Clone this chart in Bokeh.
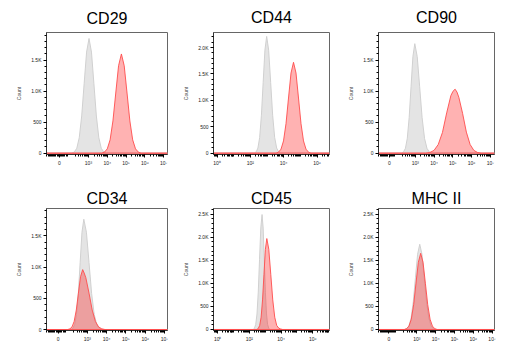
from bokeh.plotting import figure
from bokeh.layouts import gridplot
from bokeh.models import FixedTicker, Range1d
from bokeh.embed import file_html
from bokeh.resources import INLINE
import math

# ---------------- data (x in decades of fluorescence intensity, y = cell count) -------------
titles = ["CD29", "CD44", "CD90", "CD34", "CD45", "MHC II"]
scale_kind = ["biex", "log", "biex", "biex", "log", "biex"]

cd29_iso_x = [2.12, 2.25, 2.38, 2.51, 2.64, 2.77, 2.90, 3.03, 3.16, 3.29, 3.42, 3.55, 3.68, 3.81, 3.94]
cd29_iso_y = [0, 20, 80, 250, 600, 1120, 1630, 1850, 1630, 1120, 600, 250, 80, 20, 0]
cd29_pos_x = [3.70, 3.85, 4.00, 4.15, 4.30, 4.45, 4.60, 4.75, 4.90, 5.05, 5.20, 5.35, 5.50, 5.65, 5.80]
cd29_pos_y = [0, 18, 70, 215, 520, 970, 1410, 1600, 1410, 970, 520, 215, 70, 18, 0]

cd44_iso_x = [2.245, 2.35, 2.455, 2.56, 2.665, 2.77, 2.875, 2.98, 3.10, 3.22, 3.34, 3.46, 3.58, 3.70, 3.82]
cd44_iso_y = [0, 25, 97, 298, 718, 1340, 1950, 2210, 1950, 1340, 718, 298, 97, 25, 0]
cd44_pos_x = [3.54, 3.69, 3.84, 3.99, 4.14, 4.29, 4.44, 4.59, 4.74, 4.89, 5.04, 5.19, 5.34, 5.49, 5.64]
cd44_pos_y = [0, 19, 76, 232, 559, 1044, 1517, 1720, 1517, 1044, 559, 232, 76, 19, 0]

cd90_iso_x = [2.27, 2.37, 2.47, 2.57, 2.67, 2.77, 2.87, 2.97, 3.10, 3.23, 3.36, 3.49, 3.62, 3.75, 3.88]
cd90_iso_y = [0, 20, 78, 239, 574, 1072, 1558, 1766, 1558, 1072, 574, 239, 78, 20, 0]
cd90_pos_x = [3.545, 3.77, 3.995, 4.22, 4.445, 4.67, 4.895, 5.01, 5.12, 5.22, 5.32, 5.52, 5.72, 5.92, 6.12, 6.32, 6.52]
cd90_pos_y = [0, 11, 45, 140, 335, 650, 930, 1000, 1032, 985, 900, 640, 340, 140, 45, 11, 0]

cd34_iso_x = [2.155, 2.25, 2.345, 2.44, 2.535, 2.63, 2.725, 2.82, 2.955, 3.09, 3.225, 3.36, 3.495, 3.63, 3.765]
cd34_iso_y = [0, 19, 78, 239, 575, 1073, 1560, 1768, 1560, 1073, 575, 239, 78, 19, 0]
cd34_pos_x = [1.99, 2.10, 2.21, 2.32, 2.43, 2.54, 2.65, 2.76, 2.84, 2.925, 3.09, 3.255, 3.42, 3.585, 3.75, 3.915]
cd34_pos_y = [0, 11, 42, 130, 312, 583, 847, 960, 905, 830, 583, 312, 130, 42, 11, 0]

cd45_iso_x = [2.24, 2.32, 2.40, 2.48, 2.56, 2.64, 2.72, 2.80, 2.87, 2.94, 3.01, 3.08, 3.15, 3.22, 3.29]
cd45_iso_y = [0, 28, 110, 337, 810, 1513, 2199, 2493, 2199, 1513, 810, 337, 110, 28, 0]
cd45_pos_x = [2.47, 2.56, 2.65, 2.74, 2.83, 2.92, 3.01, 3.10, 3.225, 3.35, 3.475, 3.60, 3.725, 3.85, 3.975, 4.10]
cd45_pos_y = [0, 22, 87, 266, 641, 1197, 1739, 1972, 1739, 1197, 641, 266, 87, 30, 10, 0]

mhc_iso_x = [2.345, 2.46, 2.575, 2.69, 2.805, 2.92, 3.035, 3.15, 3.27, 3.39, 3.51, 3.63, 3.75, 3.87, 3.99]
mhc_iso_y = [0, 20, 81, 250, 600, 1121, 1630, 1848, 1630, 1121, 600, 250, 81, 20, 0]
mhc_pos_x = [2.325, 2.45, 2.575, 2.70, 2.825, 2.95, 3.075, 3.20, 3.325, 3.45, 3.575, 3.70, 3.825, 3.95, 4.075]
mhc_pos_y = [0, 18, 73, 223, 537, 1003, 1457, 1652, 1457, 1003, 537, 223, 73, 18, 0]

iso_x = [cd29_iso_x, cd44_iso_x, cd90_iso_x, cd34_iso_x, cd45_iso_x, mhc_iso_x]
iso_y = [cd29_iso_y, cd44_iso_y, cd90_iso_y, cd34_iso_y, cd45_iso_y, mhc_iso_y]
pos_x = [cd29_pos_x, cd44_pos_x, cd90_pos_x, cd34_pos_x, cd45_pos_x, mhc_pos_x]
pos_y = [cd29_pos_y, cd44_pos_y, cd90_pos_y, cd34_pos_y, cd45_pos_y, mhc_pos_y]

# axis ranges / ticks
x_ranges = [(0.77, 7.2), (-0.21, 6.75), (1.035, 7.22), (0.887, 7.155), (-0.264, 7.055), (0.954, 7.13)]
zero_pos = [1.45, None, 1.62, 1.485, None, 1.51]
y_ranges = [(-21, 1946), (-25, 2284), (-21, 1946), (-16, 1940), (-22, 2624), (-22, 2624)]
y_tick_values = [0, 500, 1000, 1500, 2000, 2500]
y_tick_labels = ["0", "500", "1.0K", "1.5K", "2.0K", "2.5K"]
biex_decades = [3, 4, 5, 6, 7]
biex_labels = ["10\u00b3", "10\u2074", "10\u2075", "10\u2076", "10\u2077"]
log_decades = [0, 2, 4, 6]
log_labels = ["10\u2070", "10\u00b2", "10\u2074", "10\u2076"]

# ---------------- layout ----------------
col_w = [180, 165, 185]
borders = [  # left, right, top, bottom
    (46, 10, 32, 21), (31, 16, 32, 21), (29, 33, 32, 21),
    (46, 13, 33, 20), (28, 15, 33, 20), (27, 36, 33, 20),
]
title_standoff = [12, 13, 13, 3, 3, 3]

FONT = "Liberation Sans"
figs = []
for i in range(6):
    col = i % 3
    bl, br, bt, bb = borders[i]
    x0, x1 = x_ranges[i]
    y0, y1 = y_ranges[i]
    p = figure(width=col_w[col], height=175, x_range=Range1d(x0, x1), y_range=Range1d(y0, y1),
               output_backend="svg", toolbar_location=None,
               min_border_left=bl, min_border_right=br, min_border_top=bt, min_border_bottom=bb)
    p.title.text = titles[i]
    p.title.align = "center"
    p.title.text_font = FONT
    p.title.text_font_size = "16px"
    p.title.text_font_style = "normal"
    p.title.text_color = "black"
    p.title.standoff = title_standoff[i]
    p.grid.visible = False
    p.outline_line_color = "#666666"
    p.outline_line_width = 1
    p.background_fill_color = "white"
    p.border_fill_color = "white"

    # histograms (zero counts elsewhere on the axis)
    gx = [x0] + iso_x[i] + [x1]
    gy = [0] + iso_y[i] + [0]
    p.patch(gx, gy, fill_color="#e4e4e4", fill_alpha=1.0, line_color="#d0d0d0", line_width=1)
    rx = [x0] + pos_x[i] + [x1]
    ry = [0] + pos_y[i] + [0]
    p.patch(rx, ry, fill_color="#ff0000", fill_alpha=0.3, line_color="#ff4d4d", line_alpha=0.9, line_width=1)

    # x axis ticks
    if scale_kind[i] == "biex":
        majors = [zero_pos[i]] + biex_decades
        labels = {zero_pos[i]: "0"}
        labels.update({d: l for d, l in zip(biex_decades, biex_labels)})
        minors = []
        t = x0 + 0.02
        while t < 1.9:
            minors.append(round(t, 3))
            t += 0.06
        for k in [2, 3, 4, 5, 6]:
            for m in range(2, 10):
                v = k + math.log10(m)
                if 2.2 < v < x1:
                    minors.append(v)
    else:
        majors = log_decades
        labels = {d: l for d, l in zip(log_decades, log_labels)}
        minors = []
        for k in range(-1, 8):
            for m in range(1, 10):
                v = k + math.log10(m)
                if x0 < v < x1:
                    minors.append(v)
    p.xaxis.ticker = FixedTicker(ticks=majors, minor_ticks=minors)
    p.xaxis.major_label_overrides = labels

    # y axis ticks
    ymaj = [v for v in y_tick_values if v <= y1]
    p.yaxis.ticker = FixedTicker(ticks=ymaj, minor_ticks=list(range(0, int(y1), 100)))
    p.yaxis.major_label_overrides = {v: l for v, l in zip(y_tick_values, y_tick_labels) if v <= y1}
    p.yaxis.axis_label = "Count"

    for ax in (p.xaxis, p.yaxis):
        ax.major_label_text_font = FONT
        ax.major_label_text_font_size = "5px"
        ax.major_label_text_color = "#222222"
        ax.major_label_standoff = 2
        ax.major_tick_out = 3
        ax.major_tick_in = 0
        ax.minor_tick_out = 2
        ax.minor_tick_in = 0
        ax.major_tick_line_color = "black"
        ax.minor_tick_line_color = "black"
        ax.axis_line_color = "#333333"
        ax.axis_label_text_font = FONT
        ax.axis_label_text_font_size = "5px"
        ax.axis_label_text_font_style = "normal"
        ax.axis_label_standoff = 6
    figs.append(p)

grid = gridplot([figs[0:3], figs[3:6]], toolbar_location=None)

open("out.html", "w").write(file_html(grid, INLINE))
